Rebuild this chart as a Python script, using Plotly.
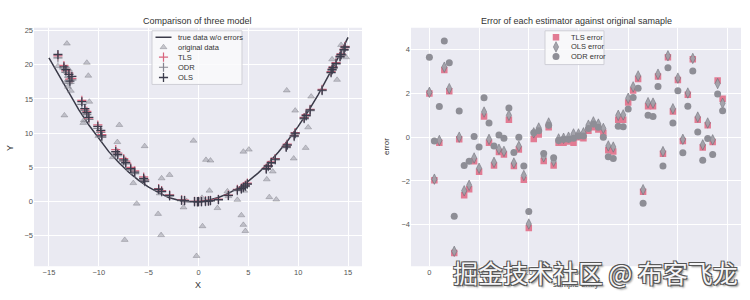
import plotly.graph_objects as go

# ---------------- data ----------------
curve_x = [-15, -14, -13, -12, -11, -10, -9, -8, -7, -6, -5, -4, -3, -2, -1, 0,
           1, 2, 3, 4, 5, 6, 7, 8, 9, 10, 11, 12, 13, 14, 15]
curve_y = [21.0, 18.4, 15.8, 13.4, 11.2, 9.2, 7.3, 5.7, 4.3, 3.1, 2.1, 1.3, 0.6, 0.2, 0.0, 0.0,
           0.2, 0.6, 1.2, 2.0, 3.0, 4.2, 5.6, 7.2, 9.0, 11.0, 13.2, 15.6, 18.2, 21.0, 24.0]

orig_x = [-14.1, -13.2, -13.0, -13.3, -13.1, -12.8, -13.45, -11.2, -11.05, -10.95,
          -11.3, -11.56, -11.5, -10.05, -7.94, -8.14, -8.6, -5.4, -6.54, -6.2,
          -7.4, -3.7, -2.9, -4.05, -3.9, -3.75, -1.5, -1.2, -0.5, -0.2,
          0.35, 0.4, 0.75, 1.1, 1.2, 1.9, 2.9, 3.0, 3.9, 4.3,
          4.5, 4.5, 4.6, 4.7, 5.05, 6.85, 7.1, 7.45, 7.8, 8.85,
          9.55, 9.7, 10.75, 11.0, 11.3, 13.4, 13.9, 14.3, 14.5, 14.8]
orig_y = [19.8, 23.1, 19.3, 17.5, 16.8, 16.2, 12.6, 20.3, 18.4, 14.6,
          13.0, 11.5, 11.9, 9.6, 11.2, 8.7, 6.5, 8.1, 2.7, -0.3,
          -5.6, 3.4, 3.9, -1.8, 1.2, -4.9, -0.85, 0.1, 8.9, -7.95,
          0.55, -3.6, 6.1, 1.6, 6.0, -0.95, 1.5, 0.8, 0.25, -2.0,
          7.3, -3.4, 1.6, -4.3, 7.6, 3.25, 0.65, 4.4, 0.3, 16.25,
          6.3, 13.3, 7.85, 10.85, 15.35, 20.8, 17.8, 22.9, 21.6, 21.1]

fit_x = [-14.1, -13.5, -13.3, -13.0, -12.9, -12.7, -11.7, -11.4, -11.2, -11.0,
         -10.1, -9.8, -9.7, -8.3, -8.1, -7.5, -7.3, -6.8, -6.4, -5.5,
         -5.4, -4.0, -3.7, -2.9, -1.7, -1.4, -0.4, -0.1, 0.0, 0.3,
         0.7, 1.0, 1.2, 2.0, 3.0, 3.9, 4.3, 4.5, 4.7, 4.9,
         6.8, 7.0, 7.3, 7.7, 8.8, 8.9, 9.6, 9.7, 10.6, 10.8,
         11.2, 12.4, 13.3, 13.4, 13.5, 13.8, 14.2, 14.3, 14.6, 14.7]
ols_y = [21.5, 19.7, 19.3, 18.6, 17.6, 18.3, 14.6, 13.6, 13.0, 12.3,
         11.0, 10.4, 9.6, 7.3, 6.9, 6.1, 5.7, 4.8, 4.3, 3.4,
         3.0, 1.8, 1.5, 0.9, 0.2, 0.15, 0.0, 0.0, 0.0, 0.0,
         0.05, 0.1, 0.15, 0.3, 0.9, 1.7, 1.9, 2.1, 2.3, 2.6,
         4.8, 5.2, 5.7, 6.2, 8.0, 8.3, 9.6, 10.0, 12.2, 12.6,
         13.4, 16.3, 18.9, 19.3, 19.6, 20.2, 21.2, 21.5, 22.2, 22.6]
tls_y = [21.3, 19.9, 19.1, 18.8, 17.9, 18.0, 14.8, 13.4, 13.2, 12.1,
         11.2, 10.2, 9.8, 7.6, 7.1, 6.3, 5.9, 5.0, 4.5, 3.6,
         3.2, 1.9, 1.6, 1.0, 0.25, 0.2, 0.05, 0.0, 0.05, 0.05,
         0.1, 0.1, 0.2, 0.35, 0.95, 1.8, 2.0, 2.2, 2.4, 2.7,
         4.9, 5.3, 5.8, 6.3, 8.1, 8.4, 9.7, 10.1, 12.3, 12.7,
         13.5, 16.4, 19.0, 19.4, 19.7, 20.3, 21.3, 21.6, 22.3, 22.7]
odr_y = [21.0, 19.4, 18.9, 18.2, 17.3, 17.8, 14.2, 13.3, 12.7, 12.0,
         10.7, 10.1, 9.4, 7.1, 6.7, 5.9, 5.5, 4.6, 4.1, 3.2,
         2.9, 1.7, 1.4, 0.8, 0.15, 0.1, 0.0, -0.05, 0.0, 0.0,
         0.0, 0.05, 0.1, 0.25, 0.85, 1.6, 1.8, 2.0, 2.2, 2.5,
         4.7, 5.1, 5.6, 6.1, 7.9, 8.2, 9.5, 9.9, 12.1, 12.5,
         13.3, 16.2, 18.8, 19.2, 19.5, 20.1, 21.1, 21.4, 22.1, 22.5]

sample_idx = list(range(60))
tls_err = [2.0, -1.97, -0.25, 3.07, 2.1, -5.3, -0.1, -2.65, -2.38, -1.1,
           -1.58, 0.95, -0.25, -1.3, -0.68, -0.79, 0.8, -1.32, -0.56, -1.95,
           -4.15, -0.08, 0.12, -1.09, 0.45, -1.29, -0.25, -0.25, -0.2, -0.25,
           0.0, -0.05, 0.3, 0.45, 0.35, 0.2, -0.6, -0.65, 0.8, 0.8,
           1.59, 2.14, 2.66, -2.5, 1.41, 1.41, 2.77, -0.76, 3.65, 1.18,
           2.62, -0.18, 1.94, 3.56, 0.8, -0.47, 0.55, -0.22, 2.59, 1.76]
ols_err = [2.05, -1.92, -0.15, 3.2, 2.22, -5.22, 0.0, -2.45, -2.2, -0.95,
           -1.42, 1.15, -0.1, -1.15, -0.55, -0.65, 1.0, -1.18, -0.42, -1.75,
           -3.97, 0.2, 0.42, -0.9, 0.65, -1.1, -0.08, -0.05, 0.0, 0.15,
           0.15, 0.2, 0.55, 0.7, 0.6, 0.4, -0.4, -0.45, 1.0, 1.02,
           1.78, 2.3, 2.8, -2.4, 1.58, 1.56, 2.88, -0.66, 3.72, 1.3,
           2.7, -0.1, 2.02, 3.6, 0.92, -0.35, 0.65, -0.12, 2.45, 1.55]
odr_err = [3.65, -0.18, 1.4, 4.4, 3.4, -3.62, 1.2, -1.3, -1.1, 0.03,
           -0.45, 1.8, 0.65, -0.4, 0.1, -0.05, 1.33, -0.7, 0.0, -1.32,
           -3.4, 0.2, 0.3, -0.75, 0.55, -0.94, -0.15, -0.1, -0.1, -0.05,
           0.05, 0.05, 0.4, 0.6, 0.45, 0.0, -0.9, -0.97, 0.5, 0.48,
           1.29, 1.82, 2.24, -3.02, 1.0, 0.95, 2.32, -1.32, 3.18, 0.65,
           2.12, -0.71, 1.41, 3.03, 0.24, -1.06, -0.06, -0.79, 1.97, 1.21]

left_ticks_x = [-15, -10, -5, 0, 5, 10, 15]
left_ticks_y = [-5, 0, 5, 10, 15, 20, 25]
right_ticks_x = [0, 10, 20, 30, 40, 50, 60]
right_ticks_y = [-4, -2, 0, 2, 4]

# ---------------- styles ----------------
W, H = 750, 300
FONT = "Liberation Sans, Arial, sans-serif"
BG = "#eaeaf2"
C_LINE = "#3a3a48"
C_TRI = "rgba(150,150,160,0.5)"
C_TRI_EDGE = "rgba(100,100,110,0.55)"
C_TLS = "#d8657e"
C_ODR = "#85858f"
C_OLS = "#3c3c4c"
C_TLS_E = "#e27b93"
C_OLS_E = "rgba(160,160,168,0.95)"
C_ODR_E = "#8e8e96"

L_DOM_X = [34 / W, 362 / W]
R_DOM_X = [411 / W, 741 / W]
DOM_Y = [1 - 266 / H, 1 - 26 / H]

tri_marker = dict(symbol="triangle-up", size=6, color=C_TRI, line=dict(color=C_TRI_EDGE, width=0.6))
tls_plus = dict(symbol="cross-thin", size=6.5, line=dict(color=C_TLS, width=1.2))
odr_plus = dict(symbol="cross-thin", size=6.5, line=dict(color=C_ODR, width=1.2))
ols_plus = dict(symbol="cross-thin", size=6.5, line=dict(color=C_OLS, width=1.3))
tls_sq = dict(symbol="square", size=6.5, color=C_TLS_E)
ols_dm = dict(symbol="diamond-tall", size=7.5, color=C_OLS_E, line=dict(color="#666670", width=0.5))
odr_ci = dict(symbol="circle", size=7, color=C_ODR_E)

fig = go.Figure()

# ---- left chart ----
fig.add_trace(go.Scatter(x=curve_x, y=curve_y, mode="lines", line=dict(color=C_LINE, width=1.5),
                         xaxis="x", yaxis="y", showlegend=False))
fig.add_trace(go.Scatter(x=orig_x, y=orig_y, mode="markers", marker=tri_marker,
                         xaxis="x", yaxis="y", showlegend=False))
fig.add_trace(go.Scatter(x=fit_x, y=tls_y, mode="markers", marker=tls_plus,
                         xaxis="x", yaxis="y", showlegend=False))
fig.add_trace(go.Scatter(x=fit_x, y=odr_y, mode="markers", marker=odr_plus,
                         xaxis="x", yaxis="y", showlegend=False))
fig.add_trace(go.Scatter(x=fit_x, y=ols_y, mode="markers", marker=ols_plus,
                         xaxis="x", yaxis="y", showlegend=False))

# ---- right chart ----
fig.add_trace(go.Scatter(x=sample_idx, y=tls_err, mode="markers", marker=tls_sq,
                         xaxis="x2", yaxis="y2", showlegend=False))
fig.add_trace(go.Scatter(x=sample_idx, y=ols_err, mode="markers", marker=ols_dm,
                         xaxis="x2", yaxis="y2", showlegend=False))
fig.add_trace(go.Scatter(x=sample_idx, y=odr_err, mode="markers", marker=odr_ci,
                         xaxis="x2", yaxis="y2", showlegend=False))

# ---- custom legends on a pixel-space helper axis ----
def box(x0, y0, x1, y1):
    fig.add_trace(go.Scatter(x=[x0, x1, x1, x0, x0], y=[y0, y0, y1, y1, y0], mode="lines",
                             fill="toself", fillcolor="rgba(250,250,252,0.85)",
                             line=dict(color="#cfcfd6", width=1), xaxis="x3", yaxis="y3",
                             showlegend=False, hoverinfo="skip"))

box(152, 29, 242, 83)
fig.add_trace(go.Scatter(x=[155.5, 171.5], y=[35.5, 35.5], mode="lines", line=dict(color=C_LINE, width=1.5),
                         xaxis="x3", yaxis="y3", showlegend=False, hoverinfo="skip"))
leg_left = [(45.5, tri_marker), (55.5, tls_plus), (65.7, odr_plus), (76, ols_plus)]
for yy, mk in leg_left:
    fig.add_trace(go.Scatter(x=[163.5], y=[yy], mode="markers", marker=mk, xaxis="x3", yaxis="y3",
                             showlegend=False, hoverinfo="skip"))
left_labels = ["true data w/o errors", "original data", "TLS", "ODR", "OLS"]
left_label_y = [35.5, 45.5, 55.5, 65.7, 76]

box(545, 29, 604, 63)
leg_right = [(35.5, tls_sq), (45.2, ols_dm), (54.8, odr_ci)]
for yy, mk in leg_right:
    fig.add_trace(go.Scatter(x=[556], y=[yy], mode="markers", marker=mk, xaxis="x3", yaxis="y3",
                             showlegend=False, hoverinfo="skip"))
right_labels = ["TLS error", "OLS error", "ODR error"]
right_label_y = [35.5, 45.2, 54.8]

annotations = []
for t, yy in zip(left_labels, left_label_y):
    annotations.append(dict(text=t, x=176 / W, y=1 - yy / H, xref="paper", yref="paper",
                            xanchor="left", yanchor="middle", showarrow=False,
                            font=dict(family=FONT, size=7.5, color="#333")))
for t, yy in zip(right_labels, right_label_y):
    annotations.append(dict(text=t, x=568.5 / W, y=1 - yy / H, xref="paper", yref="paper",
                            xanchor="left", yanchor="middle", showarrow=False,
                            font=dict(family=FONT, size=7.5, color="#333")))

# titles and axis labels
annotations += [
    dict(text="Comparison of three model", x=197.5 / W, y=1 - 19 / H, xref="paper", yref="paper",
         showarrow=False, xanchor="center", yanchor="middle", font=dict(family=FONT, size=9, color="#333")),
    dict(text="Error of each estimator against original samaple", x=576 / W, y=1 - 19 / H,
         xref="paper", yref="paper", showarrow=False, xanchor="center", yanchor="middle",
         font=dict(family=FONT, size=9, color="#333")),
    dict(text="X", x=198 / W, y=1 - 285 / H, xref="paper", yref="paper", showarrow=False,
         xanchor="center", yanchor="middle", font=dict(family=FONT, size=9, color="#333")),
    dict(text="Y", x=10 / W, y=1 - 147 / H, xref="paper", yref="paper", showarrow=False, textangle=-90,
         xanchor="center", yanchor="middle", font=dict(family=FONT, size=9, color="#333")),
    dict(text="error", x=386 / W, y=1 - 146 / H, xref="paper", yref="paper", showarrow=False, textangle=-90,
         xanchor="center", yanchor="middle", font=dict(family=FONT, size=8, color="#333")),
    dict(text="sample entry", x=576 / W, y=1 - 284 / H, xref="paper", yref="paper", showarrow=False,
         xanchor="center", yanchor="middle", font=dict(family=FONT, size=8, color="#333")),
    # watermark (drawn over the axis labels, as in the reference)
    dict(text="掘金技术社区 @ 布客飞龙", x=595 / W, y=1 - 272 / H, xref="paper", yref="paper",
         showarrow=False, xanchor="center", yanchor="middle",
         font=dict(family="Noto Sans CJK SC", size=25, color="#f6f6f8",
                   shadow="1px 1px 0 #555, -1px -1px 0 #555, 1px -1px 0 #555, -1px 1px 0 #555, 2px 2px 2px #888")),
]

tickfont = dict(family=FONT, size=7.5, color="#555")
common_axis = dict(showline=False, zeroline=False, ticks="", gridcolor="white", gridwidth=1,
                   tickfont=tickfont, showgrid=True, fixedrange=True)

fig.update_layout(
    width=W, height=H,
    margin=dict(l=0, r=0, t=0, b=0),
    paper_bgcolor="white",
    plot_bgcolor="rgba(0,0,0,0)",
    showlegend=False,
    xaxis=dict(domain=L_DOM_X, range=[-16.5, 16.4], tickvals=left_ticks_x, anchor="y", **common_axis),
    yaxis=dict(domain=DOM_Y, range=[-9.45, 25.4], tickvals=left_ticks_y, anchor="x", **common_axis),
    xaxis2=dict(domain=R_DOM_X, range=[-3.7, 62.7], tickvals=right_ticks_x, anchor="y2", **common_axis),
    yaxis2=dict(domain=DOM_Y, range=[-5.9, 5.0], tickvals=right_ticks_y, anchor="x2", **common_axis),
    xaxis3=dict(domain=[0, 1], range=[0, W], visible=False, anchor="y3", fixedrange=True),
    yaxis3=dict(domain=[0, 1], range=[H, 0], visible=False, anchor="x3", fixedrange=True),
    shapes=[
        dict(type="rect", xref="paper", yref="paper", x0=L_DOM_X[0], x1=L_DOM_X[1], y0=DOM_Y[0], y1=DOM_Y[1],
             fillcolor=BG, line=dict(width=0), layer="below"),
        dict(type="rect", xref="paper", yref="paper", x0=R_DOM_X[0], x1=R_DOM_X[1], y0=DOM_Y[0], y1=DOM_Y[1],
             fillcolor=BG, line=dict(width=0), layer="below"),
    ],
    annotations=annotations,
)

fig.write_html("out.html")
